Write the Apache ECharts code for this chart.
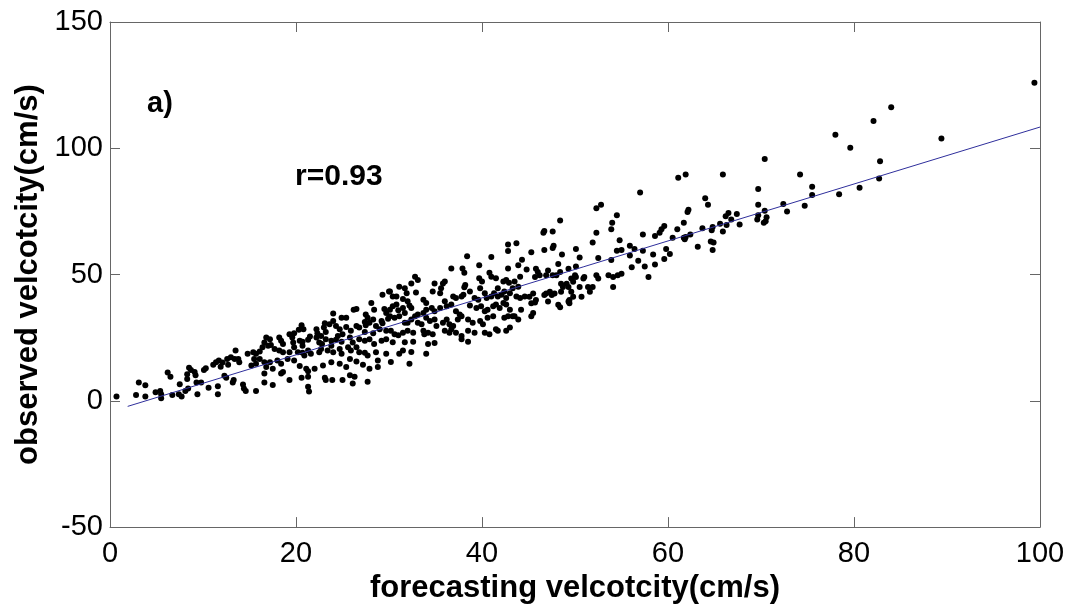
<!DOCTYPE html>
<html>
<head>
<meta charset="utf-8">
<script src="https://cdn.jsdelivr.net/npm/echarts@6/dist/echarts.min.js"></script>
<style>
html,body{margin:0;padding:0;background:#ffffff;}
#chart{width:1068px;height:609px;}
</style>
</head>
<body>
<div id="chart"></div>
<script>
// ---- data: [forecasting velocity, observed velocity] (cm/s) ----
const band0to15 = [
[0.7,1.7],[2.8,2.3],[3.1,7.3],[3.8,6.2],[3.8,1.7],[4.9,3.4],[5.4,3.9],[5.5,2.6],[5.5,1.0],[6.2,11.2],
[6.5,9.5],[6.7,2.3],[7.4,2.6],[7.5,6.6],[7.7,1.7],[8.1,3.9],[8.3,8.6],[8.3,10.5],[8.5,13.1],[8.7,12.2],
[8.4,4.9],[9.1,11.4],[9.2,10.1],[9.4,2.6],[9.3,7.3],[9.8,7.3],[10.1,12.2],[10.3,12.9],[10.6,5.2],[11.1,14.3],
[11.4,15.3],[11.6,5.8],[11.6,2.6],[11.7,16.0],[11.9,13.5],[12.1,15.2],[12.3,9.9],[12.5,9.1],[12.6,16.6],[12.7,14.3],
[13.0,17.3],[13.2,7.3],[13.3,8.2],[13.4,16.6],[13.5,19.9],[13.8,16.6],[13.9,15.3],[14.3,6.5],[14.4,4.9],[14.6,3.9],[14.8,18.6]
];
const band15to30 = [
[30.0,43.3],[29.3,42.0],[28.1,38.7],[26.5,36.4],[26.2,36.1],[29.5,36.4],[28.4,36.1],[29.7,34.8],
[24.0,34.6],[24.9,32.9],[25.4,32.9],[27.5,34.2],[27.7,32.9],[27.4,31.2],[28.3,32.2],[29.2,31.6],[29.9,32.5],[29.3,30.7],[24.0,31.6],[23.1,30.7],[23.6,30.3],[23.0,29.0],
[20.6,29.9],[20.8,28.3],[19.8,26.8],[20.3,28.1],[22.2,28.3],[22.3,26.8],[22.7,25.7],[23.2,27.3],[24.3,29.6],[24.7,28.3],[25.4,29.2],[26.5,29.6],[26.8,29.0],[27.5,29.9],[27.9,30.9],[28.6,29.6],[29.0,28.3],[27.4,27.3],[28.3,26.8],[25.9,27.7],[25.0,26.4],[24.5,25.7],[29.7,27.7],
[16.8,25.1],[17.2,24.4],[16.6,23.1],[18.2,25.1],[18.4,23.8],[18.6,22.5],[19.3,26.4],[19.6,25.1],[19.7,23.1],[20.4,23.8],[20.7,23.4],[21.5,25.5],[21.3,24.2],[20.7,21.8],[22.2,25.1],[22.5,23.1],[22.8,22.5],[23.2,24.4],[23.8,23.8],[24.3,24.2],[24.9,23.4],[25.8,25.1],[26.1,23.1],[26.8,24.4],[27.4,23.8],[27.9,24.4],[28.4,22.5],[29.2,23.8],[29.7,24.4],
[15.4,19.2],[15.7,18.6],[16.1,19.5],[16.4,21.2],[17.0,21.8],[17.3,22.1],[16.1,16.6],[15.5,16.6],[17.7,20.5],[18.2,19.9],[18.6,19.2],[19.3,19.2],[19.8,21.2],[20.2,19.2],[20.7,19.0],[20.9,17.9],[21.3,19.9],[21.6,18.6],[22.5,19.2],[22.7,20.5],[23.4,19.9],[23.8,21.8],[24.0,19.2],[24.7,20.5],[24.9,18.6],[25.6,21.2],[25.9,19.9],[26.5,21.2],[26.8,19.2],[27.4,19.0],[27.7,17.9],[28.6,19.2],[29.7,18.6],
[15.2,14.0],[15.7,14.7],[16.6,15.3],[16.8,13.4],[17.2,15.3],[17.5,12.7],[18.0,16.0],[18.4,14.7],[18.6,11.4],[19.1,16.6],[19.8,16.0],[20.4,13.8],[21.1,12.7],[21.3,11.7],[22.0,12.7],[22.9,14.0],[23.8,15.3],[24.7,14.7],[25.4,13.4],[25.8,16.6],[26.5,15.6],[27.2,14.3],[27.9,12.7],[28.8,16.0],[28.8,13.4],
[16.6,10.8],[18.4,10.8],[19.3,8.2],[20.6,9.1],[21.3,9.5],[23.1,9.1],[23.2,8.2],[23.9,8.2],[25.0,8.2],[25.8,10.1],[26.3,9.5],[26.1,6.9],[27.7,7.6],[16.6,7.3],[17.5,6.3],[15.7,3.9],[21.3,5.6],[21.4,3.7]
];
const band30to45 = [
[43.7,62.4],[42.8,61.9],[42.8,59.3],[44.3,55.9],[43.9,53.7],[38.4,57.2],[41.0,56.9],[39.7,53.7],[36.7,52.4],[37.9,52.4],[38.1,50.7],[42.8,52.4],[44.8,52.0],
[32.8,49.1],[33.1,47.8],[32.4,46.5],[31.1,45.2],[34.9,46.5],[35.8,46.5],[35.6,44.6],[36.0,47.2],[38.2,45.9],[38.1,45.0],[39.7,48.5],[40.0,47.2],[39.8,44.6],[40.8,50.7],[41.0,49.1],[41.5,48.5],[41.7,44.6],[42.3,47.2],[42.6,47.8],[42.9,46.8],[43.5,47.2],[43.9,45.2],[44.1,49.1],[34.7,43.3],
[30.1,43.3],[30.4,41.3],[30.8,41.3],[31.7,44.6],[31.9,42.6],[31.5,40.3],[32.0,39.4],[32.9,42.9],[33.7,40.0],[34.0,38.7],[35.5,42.6],[36.0,39.4],[36.9,41.3],[37.2,40.7],[37.8,41.3],[38.0,42.0],[38.7,43.3],[39.2,40.7],[39.6,40.0],[40.3,42.6],[40.5,40.7],[41.0,41.3],[41.3,42.6],[41.7,41.3],[42.1,42.0],[42.4,43.3],[42.6,40.7],[43.0,42.6],[43.3,44.6],[43.7,41.3],[44.1,40.7],[44.6,41.3],
[30.1,36.1],[30.4,37.4],[30.8,38.1],[31.0,35.9],[31.5,36.8],[31.7,34.8],[32.2,37.7],[32.4,36.8],[32.8,33.5],[33.1,34.2],[33.7,34.8],[34.0,36.1],[34.6,36.8],[34.9,35.5],[35.5,36.8],[36.2,37.4],[36.7,38.1],[37.2,35.5],[37.6,34.2],[38.7,37.7],[39.4,36.8],[39.9,37.4],[40.3,35.5],[40.6,36.1],[41.2,37.4],[41.5,38.1],[41.9,36.8],[42.3,38.7],[42.6,38.1],[43.0,36.1],[43.5,33.5],[44.2,36.1],
[30.1,33.5],[30.6,32.9],[31.1,33.5],[31.7,30.9],[32.0,30.9],[32.4,32.2],[33.1,30.9],[33.5,30.3],[34.0,32.9],[34.4,31.6],[34.9,32.2],[35.1,29.6],[35.8,30.9],[36.2,32.2],[36.5,30.3],[36.9,29.6],[37.4,32.2],[37.8,33.5],[38.5,32.2],[39.0,30.9],[39.8,31.6],[40.1,30.3],[40.6,32.9],[41.2,33.5],[42.4,32.9],[42.8,33.5],[43.3,33.5],[43.9,32.2],
[30.2,27.7],[30.6,26.4],[31.0,26.0],[31.5,27.0],[32.0,27.7],[32.6,27.0],[33.7,27.7],[33.8,26.4],[34.2,27.0],[34.7,26.4],[36.0,27.7],[36.5,27.0],[36.7,28.3],[37.2,27.0],[37.8,25.7],[38.5,27.7],[39.2,27.0],[40.3,27.0],[40.8,26.4],[41.5,28.3],[41.7,27.7],[42.6,27.7],[43.0,29.0],
[30.4,23.2],[31.7,23.2],[32.6,23.4],[34.2,22.5],[34.9,22.9],[37.8,24.4],[38.5,23.4],[31.5,19.9],[31.1,18.6],[32.4,19.3],[34.0,18.6],[30.2,15.4],[32.2,14.7]
];
const band45to60 = [
[57.0,82.5],[52.3,76.3],[52.8,77.6],[54.5,73.5],[54.0,70.5],[53.9,67.9],[48.4,71.4],[46.7,67.2],[46.6,66.6],[47.6,67.0],
[52.3,66.6],[54.8,63.6],[51.9,62.7],[47.7,61.4],[47.6,60.5],[46.7,59.7],[50.1,60.1],[45.3,58.8],[48.6,57.9],[50.5,56.8],
[52.5,56.6],[53.9,55.8],[54.5,59.4],[55.0,59.7],[55.9,61.4],[56.4,60.1],[57.3,59.4],[57.3,65.9],[58.6,65.3],[59.1,66.6],
[59.3,67.9],[59.6,69.2],[59.8,60.1],[59.6,56.2],[58.4,57.9],[58.6,54.0],[57.5,53.2],[56.1,52.9],[55.9,57.5],[55.0,50.3],
[54.6,49.7],[54.1,49.0],[53.6,49.7],[52.3,49.7],[52.5,48.4],[51.4,45.1],[51.6,43.2],[51.9,45.1],[50.9,48.4],[51.0,49.0],
[50.1,49.0],[49.8,47.1],[49.6,48.4],[50.0,49.7],[49.3,52.3],[50.1,53.2],[48.4,51.0],[48.2,54.2],[48.0,49.7],[47.6,49.7],
[46.9,49.7],[47.1,51.6],[45.8,52.3],[46.0,51.0],[46.2,49.7],[45.7,49.0],[45.5,42.5],[45.8,39.9],[45.7,38.9],[45.1,41.2],
[45.3,38.6],[46.9,42.5],[46.7,41.9],[47.3,43.2],[47.8,42.5],[47.5,41.9],[47.1,39.3],[48.5,43.2],[48.7,45.1],[48.5,46.4],
[49.1,46.4],[49.3,45.1],[49.6,43.2],[49.4,39.9],[49.3,39.3],[49.8,41.2],[50.7,41.2],[50.5,45.1],[48.2,38.0],[48.4,37.1],
[49.4,38.6],[45.5,34.8],[45.3,33.5],[54.1,45.1],[56.8,55.5],[57.9,49.0]
];
const band60to100 = [
[61.1,88.3],[61.9,89.6],[65.9,89.6],[70.4,95.8],[74.2,89.6],[75.5,84.8],[75.5,81.5],[74.7,77.2],[72.8,75.0],[72.4,77.9],
[70.6,72.7],[70.5,71.1],[70.3,70.5],[69.7,73.5],[69.6,71.8],[69.7,77.6],[69.7,83.9],[70.4,75.3],[67.7,69.8],[67.4,74.0],
[66.8,71.8],[66.5,74.4],[66.2,73.1],[66.3,69.6],[65.6,70.1],[65.9,67.0],[64.8,68.8],[64.7,67.5],[64.9,62.7],[64.6,63.1],
[64.8,59.7],[63.2,61.0],[63.7,68.3],[64.0,80.2],[64.3,77.6],[62.2,75.7],[62.1,74.8],[61.7,70.5],[61.0,67.9],[60.5,64.6],
[61.7,64.6],[61.9,64.9],[62.4,65.9],[61.8,64.0],[60.2,58.1],
[78.0,105.4],[79.6,100.2],[82.1,110.8],[84.0,116.2],[82.8,94.9],[82.7,88.0],[80.6,84.4],[78.4,81.8],[89.4,103.9],[99.4,125.9]
];
// fitted regression line end points
const fitForecast = [1.9, 100];
const fitObserved = [-2.2, 108.4];
// axis ticks
const xTickStep = 20, xMin = 0, xMax = 100;
const yTickStep = 50, yMin = -50, yMax = 150;
// texts
const xTitle = 'forecasting velcotcity(cm/s)';
const yTitle = 'observed velcotcity(cm/s)';
const panelLabel = 'a)';
const corrLabel = 'r=0.93';

// ---- chart ----
const FONT = '"Liberation Sans", Arial, Helvetica, sans-serif';
const AX = '#666666';
const points = [].concat(band0to15, band15to30, band30to45, band45to60, band60to100);
const fitLine = fitForecast.map((x, i) => [x, fitObserved[i]]);

function axisBase(pos, showLabel) {
  return {
    type: 'value', position: pos,
    axisLine: {show: true, onZero: false, lineStyle: {color: AX, width: 1}},
    axisTick: {show: true, inside: true, length: 10, lineStyle: {color: AX, width: 1}},
    splitLine: {show: false},
    axisLabel: showLabel ? {show: true, color: '#000', fontSize: 29, fontFamily: FONT,
                            showMinLabel: true, showMaxLabel: true} : {show: false}
  };
}

const xBottom = Object.assign(axisBase('bottom', true), {
  min: xMin, max: xMax, interval: xTickStep,
  name: xTitle, nameLocation: 'middle', nameGap: 38,
  nameTextStyle: {color: '#000', fontSize: 31, fontWeight: 'bold', fontFamily: FONT}
});
xBottom.axisLabel.margin = 12;
const xTop = Object.assign(axisBase('top', false), {min: xMin, max: xMax, interval: xTickStep});
const yLeft = Object.assign(axisBase('left', true), {
  min: yMin, max: yMax, interval: yTickStep,
  name: yTitle, nameLocation: 'middle', nameGap: 66,
  nameTextStyle: {color: '#000', fontSize: 31, fontWeight: 'bold', fontFamily: FONT}
});
yLeft.axisLabel.margin = 7;
const yRight = Object.assign(axisBase('right', false), {min: yMin, max: yMax, interval: yTickStep});

const chart = echarts.init(document.getElementById('chart'), null, {renderer: 'canvas'});
chart.setOption({
  animation: false,
  backgroundColor: '#ffffff',
  grid: {left: 110, right: 28, top: 22, bottom: 74, containLabel: false},
  xAxis: [xBottom, xTop],
  yAxis: [yLeft, yRight],
  graphic: [
    {type: 'text', left: 147, top: 89, style: {text: panelLabel, font: 'bold 29px ' + FONT, fill: '#000'}},
    {type: 'text', left: 295, top: 162, style: {text: corrLabel, font: 'bold 30px ' + FONT, fill: '#000'}}
  ],
  series: [
    {type: 'scatter', xAxisIndex: 0, yAxisIndex: 0, data: points, symbol: 'circle', symbolSize: 6,
     itemStyle: {color: '#000', opacity: 1}, silent: true},
    {type: 'line', xAxisIndex: 0, yAxisIndex: 0, data: fitLine, symbol: 'none', silent: true,
     lineStyle: {color: '#2f2f9c', width: 1}}
  ]
});
</script>
</body>
</html>
